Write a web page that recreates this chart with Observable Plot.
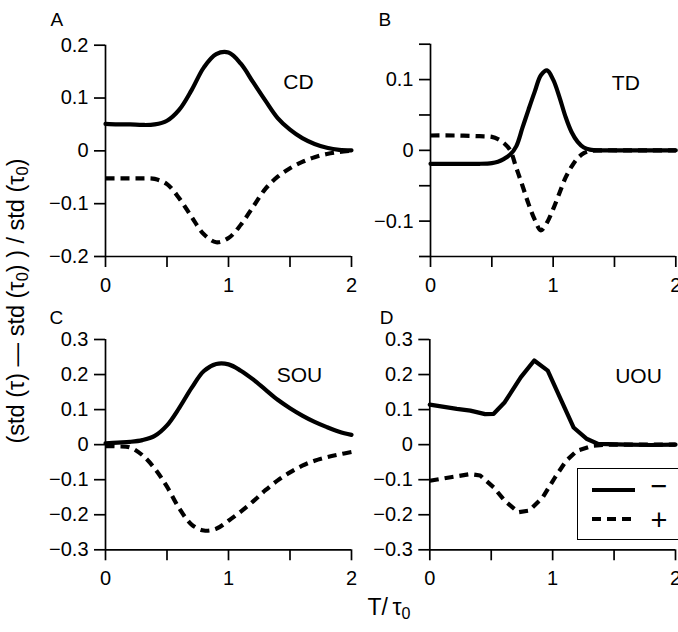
<!DOCTYPE html>
<html>
<head>
<meta charset="utf-8">
<script src="https://cdn.jsdelivr.net/npm/d3@7"></script>
<script src="https://cdn.jsdelivr.net/npm/@observablehq/plot@0.6"></script>
<style>
  html, body { margin: 0; padding: 0; background: #fff; }
  #fig { position: relative; width: 678px; height: 632px; overflow: hidden; background: #fff;
         font-family: "Liberation Sans", Arial, Helvetica, sans-serif; color: #000; }
  .panel { position: absolute; }
  .panel svg { overflow: visible; }
  .panel g[aria-label*="tick"] { stroke-width: 1.7px; }
  .ylab { position: absolute; left: 16px; top: 301px; white-space: nowrap; font-size: 23.5px;
          transform: translate(-50%, -50%) rotate(-90deg); }
  .xlab { position: absolute; left: 389px; top: 607px; white-space: nowrap; font-size: 23px;
          transform: translate(-50%, -50%); }
  sub { font-size: 70%; vertical-align: -0.3em; line-height: 0; }
  .legend { position: absolute; left: 577px; top: 468px; width: 110px; height: 72px;
            border: 1.5px solid #000; background: #fff; box-sizing: border-box; }
  .legend svg { position: absolute; left: -1.5px; top: -1.5px; overflow: visible; }
</style>
</head>
<body>
<div id="fig"></div>
<script>
// CD: constant-delay model
const cdT     = [0, 0.1, 0.2, 0.3, 0.4, 0.5, 0.6, 0.7, 0.8, 0.9, 1.0, 1.1, 1.2, 1.3, 1.4, 1.5, 1.6, 1.7, 1.8, 1.9, 2.0];
const cdMinus = [0.051, 0.050, 0.050, 0.049, 0.050, 0.057, 0.078, 0.115, 0.158, 0.183, 0.186, 0.165, 0.130, 0.095, 0.062, 0.040, 0.024, 0.013, 0.006, 0.002, 0.001];
const cdPlus  = [-0.052, -0.052, -0.052, -0.052, -0.053, -0.063, -0.090, -0.125, -0.158, -0.173, -0.165, -0.140, -0.106, -0.072, -0.049, -0.033, -0.021, -0.012, -0.006, -0.002, 0.000];

// TD
const tdT     = [0, 0.2, 0.4, 0.5, 0.55, 0.6, 0.65, 0.7, 0.75, 0.8, 0.85, 0.9, 0.95, 1.0, 1.05, 1.1, 1.15, 1.2, 1.25, 1.3, 1.4, 1.6, 1.8, 2.0];
const tdMinus = [-0.019, -0.019, -0.019, -0.018, -0.016, -0.012, -0.006, 0.006, 0.032, 0.058, 0.083, 0.106, 0.113, 0.100, 0.076, 0.048, 0.026, 0.012, 0.004, 0.001, 0, 0, 0, 0];
const tdPlus  = [0.021, 0.021, 0.020, 0.019, 0.016, 0.010, 0.000, -0.025, -0.050, -0.076, -0.098, -0.113, -0.102, -0.083, -0.061, -0.039, -0.023, -0.011, -0.004, -0.001, 0, 0, 0, 0];

// SOU
const souT     = [0, 0.1, 0.2, 0.3, 0.4, 0.5, 0.6, 0.7, 0.8, 0.9, 1.0, 1.1, 1.2, 1.3, 1.4, 1.5, 1.6, 1.7, 1.8, 1.9, 2.0];
const souMinus = [0.004, 0.006, 0.008, 0.013, 0.025, 0.055, 0.105, 0.162, 0.210, 0.230, 0.229, 0.211, 0.186, 0.157, 0.128, 0.104, 0.083, 0.065, 0.050, 0.037, 0.028];
const souPlus  = [-0.004, -0.005, -0.008, -0.030, -0.068, -0.120, -0.182, -0.228, -0.245, -0.240, -0.217, -0.191, -0.162, -0.130, -0.102, -0.079, -0.060, -0.046, -0.036, -0.028, -0.021];

// UOU
const uouTMinus = [0, 0.22, 0.33, 0.45, 0.52, 0.61, 0.74, 0.85, 0.96, 1.07, 1.17, 1.28, 1.37, 1.6, 1.8, 2.0];
const uouMinus  = [0.114, 0.102, 0.097, 0.087, 0.088, 0.121, 0.192, 0.240, 0.211, 0.126, 0.049, 0.016, 0.002, 0, -0.001, 0];
const uouTPlus  = [0, 0.17, 0.33, 0.41, 0.52, 0.61, 0.72, 0.81, 0.92, 1.02, 1.11, 1.20, 1.33, 1.45, 2.0];
const uouPlus   = [-0.103, -0.093, -0.084, -0.088, -0.122, -0.160, -0.193, -0.188, -0.150, -0.093, -0.046, -0.017, -0.003, 0, 0];

const xTicks = [0, 0.5, 1, 1.5, 2];
const xLabeled = [0, 1, 2];

const fmt = d3.format(".1f");
const rows = (T, V) => T.map((t, i) => ({t, v: V[i]}));

function panel({letter, name, T, minus, Tplus, plus, yDomain, yTicks, yLabeled, curve,
                left, top, width, height, mLeft, mRight, mTop, mBottom,
                letterDx, letterDy, nameDx, nameDy}) {
  const chart = Plot.plot({
    width, height,
    marginLeft: mLeft, marginRight: mRight, marginTop: mTop, marginBottom: mBottom,
    style: {background: "none", overflow: "visible", color: "#000",
            fontFamily: "'Liberation Sans', Arial, Helvetica, sans-serif", fontSize: "20px"},
    x: {domain: [0, 2], ticks: xTicks, tickSize: 11, tickPadding: 10, label: null,
        tickFormat: d => xLabeled.includes(d) ? String(d) : ""},
    y: {domain: yDomain, ticks: yTicks, tickSize: 11, tickPadding: 6, label: null,
        tickFormat: d => yLabeled.includes(d) ? (d === 0 ? "0" : fmt(d)) : ""},
    marks: [
      Plot.ruleX([0], {stroke: "#000", strokeWidth: 1.7}),
      Plot.ruleY([yDomain[0]], {stroke: "#000", strokeWidth: 1.7}),
      Plot.line(rows(Tplus, plus), {x: "t", y: "v", curve, stroke: "#000", strokeWidth: 4.2,
                                    strokeDasharray: "9,6", strokeLinecap: "butt"}),
      Plot.line(rows(T, minus), {x: "t", y: "v", curve, stroke: "#000", strokeWidth: 4.2,
                                 strokeLinejoin: "round"}),
      Plot.text([letter], {frameAnchor: "top-left", text: d => d, dx: letterDx, dy: letterDy,
                           textAnchor: "start", fontSize: 19}),
      Plot.text([name], {frameAnchor: "top-right", text: d => d, dx: nameDx, dy: nameDy,
                         textAnchor: "middle", fontSize: 21})
    ]
  });
  const div = document.createElement("div");
  div.className = "panel";
  div.style.left = left + "px";
  div.style.top = top + "px";
  div.appendChild(chart);
  document.getElementById("fig").appendChild(div);
}

panel({letter: "A", name: "CD", T: cdT, minus: cdMinus, Tplus: cdT, plus: cdPlus,
       yDomain: [-0.2, 0.2], yTicks: [-0.2, -0.1, 0, 0.1, 0.2], yLabeled: [-0.2, -0.1, 0, 0.1, 0.2],
       curve: "catmull-rom", left: 0, top: 0, width: 360, height: 300,
       mLeft: 105, mRight: 9, mTop: 44.7, mBottom: 44,
       letterDx: -55, letterDy: -33, nameDx: -53, nameDy: 29});

panel({letter: "B", name: "TD", T: tdT, minus: tdMinus, Tplus: tdT, plus: tdPlus,
       yDomain: [-0.15, 0.15], yTicks: [-0.15, -0.1, -0.05, 0, 0.05, 0.1, 0.15], yLabeled: [-0.1, 0, 0.1],
       curve: "catmull-rom", left: 330, top: 0, width: 348, height: 300,
       mLeft: 100, mRight: 2.7, mTop: 43.7, mBottom: 44,
       letterDx: -52, letterDy: -32, nameDx: -50, nameDy: 31});

panel({letter: "C", name: "SOU", T: souT, minus: souMinus, Tplus: souT, plus: souPlus,
       yDomain: [-0.3, 0.3], yTicks: [-0.3, -0.2, -0.1, 0, 0.1, 0.2, 0.3], yLabeled: [-0.3, -0.2, -0.1, 0, 0.1, 0.2, 0.3],
       curve: "catmull-rom", left: 0, top: 300, width: 360, height: 332,
       mLeft: 105, mRight: 9, mTop: 39, mBottom: 82.7,
       letterDx: -56, letterDy: -29, nameDx: -52, nameDy: 28});

panel({letter: "D", name: "UOU", T: uouTMinus, minus: uouMinus, Tplus: uouTPlus, plus: uouPlus,
       yDomain: [-0.3, 0.3], yTicks: [-0.3, -0.2, -0.1, 0, 0.1, 0.2, 0.3], yLabeled: [-0.3, -0.2, -0.1, 0, 0.1, 0.2, 0.3],
       curve: "linear", left: 330, top: 300, width: 348, height: 332,
       mLeft: 99.3, mRight: 3, mTop: 39, mBottom: 82.7,
       letterDx: -50, letterDy: -29, nameDx: -37, nameDy: 29});

// axis titles and legend
const fig = document.getElementById("fig");
fig.insertAdjacentHTML("beforeend",
  '<div class="ylab">(std (\u03c4) \u2014 std (\u03c4<sub>0</sub>) ) / std (\u03c4<sub>0</sub>)</div>' +
  '<div class="xlab">T/\u2009\u03c4<sub>0</sub></div>' +
  '<div class="legend">' +
    '<svg width="110" height="72">' +
      '<line x1="15" x2="58" y1="22" y2="22" stroke="#000" stroke-width="4.2"/>' +
      '<line x1="15" x2="58" y1="51" y2="51" stroke="#000" stroke-width="4.2" stroke-dasharray="9,6"/>' +
      '<text x="82" y="18" text-anchor="middle" dominant-baseline="central" ' +
        'font-family="Liberation Sans, Arial, sans-serif" font-size="29">\u2212</text>' +
      '<text x="82" y="52" text-anchor="middle" dominant-baseline="central" ' +
        'font-family="Liberation Sans, Arial, sans-serif" font-size="29">+</text>' +
    '</svg>' +
  '</div>');
</script>
</body>
</html>
